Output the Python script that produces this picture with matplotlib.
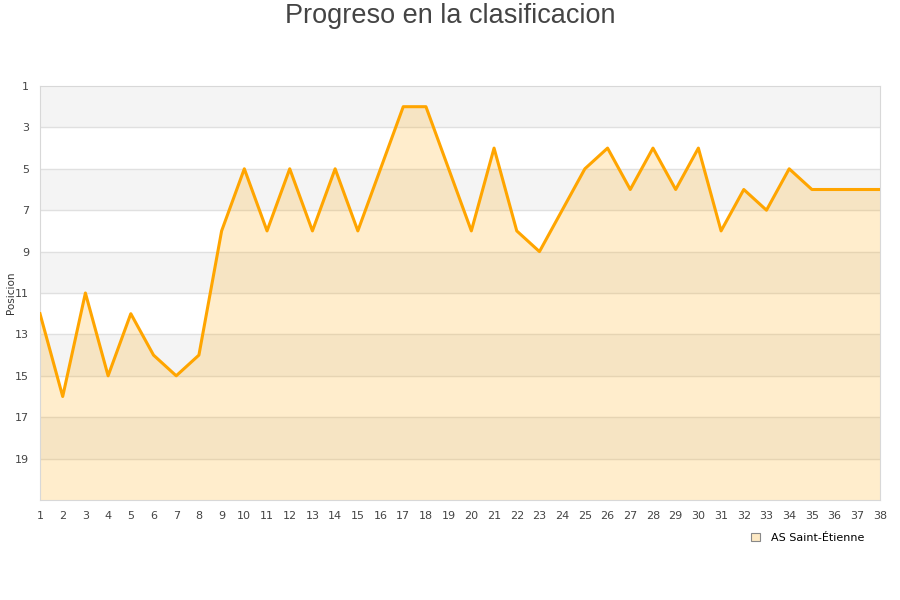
import matplotlib
matplotlib.use("Agg")
import matplotlib.pyplot as plt
from matplotlib.patches import Patch

# Jornadas y posiciones del equipo
jornadas = list(range(1, 39))
posiciones = [12, 16, 11, 15, 12, 14, 15, 14, 8, 5,
              8, 5, 8, 5, 8, 5, 2, 2, 5, 8,
              4, 8, 9, 7, 5, 4, 6, 4, 6, 4,
              8, 6, 7, 5, 6, 6, 6, 6]
y_ticks = list(range(1, 20, 2))
equipo = "AS Saint-Étienne"

line_color = "#ffa500"

fig = plt.figure(figsize=(9, 6), dpi=100)
ax = fig.add_axes([40 / 900, 1 - 500 / 600, 840 / 900, 414 / 600])

# franjas alternas de fondo
for i, y0 in enumerate(range(1, 21, 2)):
    if i % 2 == 0:
        ax.axhspan(y0, y0 + 2, color="#f4f4f4", zorder=0, lw=0)
for y in range(3, 21, 2):
    ax.axhline(y, color="#e0e0e0", lw=1, zorder=1)

ax.fill_between(jornadas, posiciones, 21, color=line_color, alpha=0.2, lw=0, zorder=2)
ax.plot(jornadas, posiciones, color=line_color, lw=2.2, zorder=3)

ax.set_xlim(1, 38)
ax.set_ylim(21, 1)
ax.set_xticks(jornadas)
ax.set_yticks(y_ticks)
ax.tick_params(length=0, labelsize=8, colors="#444444", pad=8)
for s in ax.spines.values():
    s.set_color("#d8d8d8")

fig.text(11 / 900, 1 - 293 / 600, "Posicion", rotation=90, ha="center", va="center",
         fontsize=7.5, color="#333333")

fig.suptitle("Progreso en la clasificacion", y=0.995, fontsize=19.5,
             family="Liberation Sans", color="#444444")

handle = Patch(facecolor="#fde9c4", edgecolor="#888888", lw=0.8)
fig.legend([handle], [equipo], loc="center", bbox_to_anchor=(808 / 900, 1 - 538 / 600),
           frameon=False, fontsize=8, handlelength=0.8, handleheight=0.8, handletextpad=1.0)

fig.savefig("out.png", dpi=100)
